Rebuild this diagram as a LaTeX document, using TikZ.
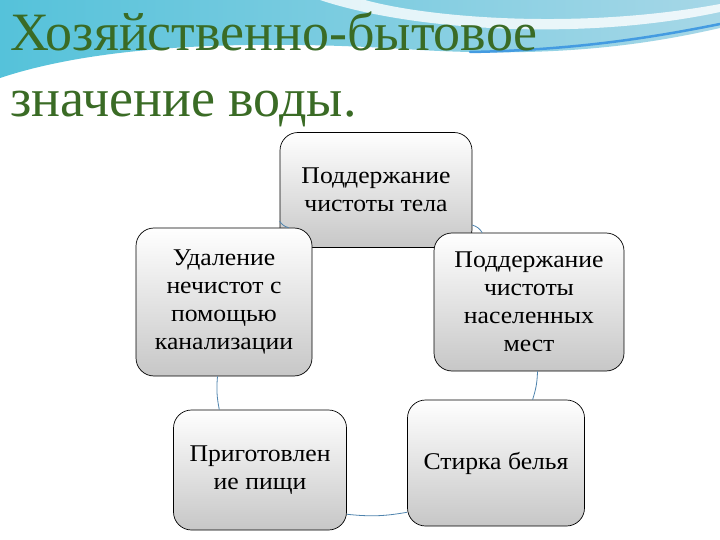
\documentclass[tikz,border=0pt]{standalone}
\usepackage{fontspec}
\setmainfont{Liberation Serif}
\newfontfamily\boxfont[FakeStretch=1.07]{Liberation Serif}
\usepackage{xcolor}
\usepackage{tikz}
\usetikzlibrary{positioning, calc}
\definecolor{wtgreen}{HTML}{3A6B25}
\definecolor{wtlink}{HTML}{4F84AE}
\definecolor{wtcyan}{HTML}{55C2DA}
\definecolor{wtsky}{HTML}{A6D7E7}

\begin{document}
\begin{tikzpicture}[
  x=1pt, y=-1pt,
  box/.style={rectangle, draw=black, line width=0.7pt, rounded corners=18pt,
    top color=white, bottom color=black!22, align=center,
    font=\boxfont\fontsize{24}{28}\selectfont, inner sep=4pt},
  head/.style={anchor=base west, inner sep=0pt, text=wtgreen,
    font=\fontsize{54}{66}\selectfont},
  link/.style={draw=wtlink, line width=0.8pt},
]
  \useasboundingbox (0,0) rectangle (720,540);
  \fill[white] (0,0) rectangle (720,540);

  % background swoosh
  \shade[left color=wtcyan, right color=wtsky]
    (0,0) -- (720,0) -- (720,28)
    .. controls (650,44) and (560,58) .. (420,50)
    .. controls (300,42) and (120,38) .. (0,78) -- cycle;
  \fill[white, opacity=0.8]
    (320,0) .. controls (410,30) and (580,42) .. (720,12)
    -- (720,4) .. controls (580,30) and (430,18) .. (365,0) -- cycle;
  \draw[wtcyan!80!blue, line width=2.5pt, line cap=round]
    (470,52) .. controls (580,50) and (660,36) .. (720,24);

  % title
  \node[head] (head1) at (10,51) {Хозяйственно-бытовое};
  \node[head] (head2) at (10,117) {значение воды.};

  % cycle
  \node[box, minimum width=192, minimum height=115] (body) at (376,190)
    {Поддержание\\чистоты тела};
  \node[box, minimum width=176, minimum height=148] (sewer) at (224,302)
    {Удаление\\нечистот с\\помощью\\канализации};
  \node[box, minimum width=190, minimum height=138] (towns) at (529,302)
    {Поддержание\\чистоты\\населенных\\мест};
  \node[box, minimum width=173, minimum height=120] (cook) at (260,470)
    {Приготовлен\\ие пищи};
  \node[box, minimum width=177, minimum height=126] (wash) at (496,463)
    {Стирка белья};

  \draw[link] (body.198) to[bend right=20] (sewer.49);
  \draw[link] (sewer.-95) to[bend right=8] (cook.124);
  \draw[link] (cook.-27) to[bend right=8] (wash.209);
  \draw[link] (wash.60) to[bend right=8] (towns.-83);
  \draw[link] (towns.124) to[bend right=20] (body.-20);
\end{tikzpicture}
\end{document}
